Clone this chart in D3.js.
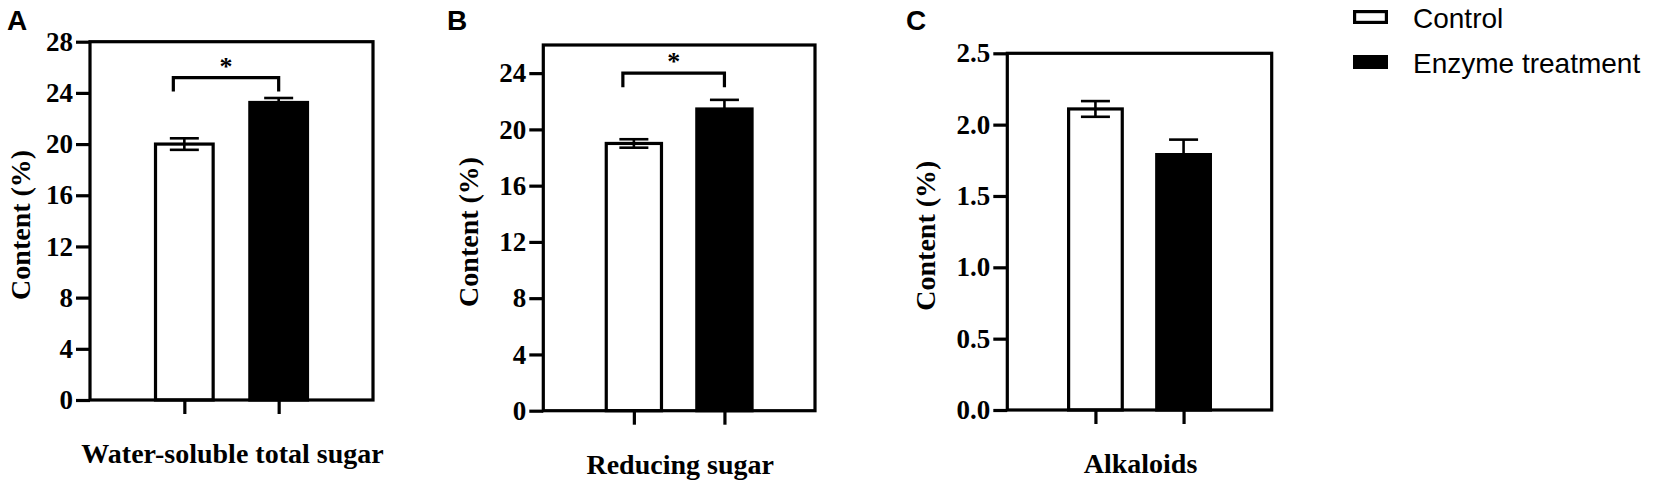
<!DOCTYPE html>
<html>
<head>
<meta charset="utf-8">
<script src="https://cdn.jsdelivr.net/npm/d3@7"></script>
<style>
  body { margin: 0; background: #fff; }
  svg text { fill: #000; }
</style>
</head>
<body>
<div id="chart"></div>
<script>

// ---- data ----
var groups = ["Control", "Enzyme treatment"];
var letters = ["A", "B", "C"];
var titles = ["Water-soluble total sugar", "Reducing sugar", "Alkaloids"];
var controlMean = [20.0, 19.0, 2.11];
var controlErr = [0.45, 0.3, 0.055];
var enzymeMean = [23.25, 21.45, 1.79];
var enzymeErr = [0.35, 0.65, 0.105];
var yMax = [28, 26, 2.5];
var yTicks = [
  [0, 4, 8, 12, 16, 20, 24, 28],
  [0, 4, 8, 12, 16, 20, 24],
  [0, 0.5, 1, 1.5, 2, 2.5]
];
var tickFormat = ["d", "d", ".1f"];
var sigMark = ["*", "*", null];
var sigLevel = [25.2, 24.0, null];

// ---- layout ----
var W = 1654, H = 481;
var frames = [
  {left: 90, right: 373, top: 41.7, bottom: 400, letterX: 7, ylabX: 20},
  {left: 543.3, right: 815, top: 45, bottom: 410.7, letterX: 447, ylabX: 468},
  {left: 1007.3, right: 1271.7, top: 53.3, bottom: 410, letterX: 906, ylabX: 925}
];
var serif = "'Liberation Serif', 'Times New Roman', serif";
var sans = "'Liberation Sans', Arial, sans-serif";
var lw = 3.2;

var svg = d3.select("#chart")
  .append("svg")
  .attr("width", W)
  .attr("height", H);

frames.forEach(function(f, i) {
  var g = svg.append("g");

  var y = d3.scaleLinear()
    .domain([0, yMax[i]])
    .range([f.bottom, f.top]);

  var x = d3.scalePoint()
    .domain(groups)
    .range([f.left, f.right])
    .padding(1);

  var bw = 0.215 * (f.right - f.left);
  var cap = 29;

  var rows = groups.map(function(k, j) {
    return {
      group: k,
      mean: j ? enzymeMean[i] : controlMean[i],
      err: j ? enzymeErr[i] : controlErr[i]
    };
  });

  // y axis
  var yAxis = d3.axisLeft(y)
    .tickValues(yTicks[i])
    .tickSize(14)
    .tickPadding(3)
    .tickFormat(d3.format(tickFormat[i]));

  var ya = g.append("g")
    .attr("transform", "translate(" + f.left + ",0)")
    .call(yAxis);
  ya.select(".domain").remove();
  ya.selectAll(".tick line")
    .attr("stroke", "#000")
    .attr("stroke-width", lw);
  ya.selectAll(".tick text")
    .style("font-family", serif)
    .style("font-weight", "bold")
    .style("font-size", "27px");

  // x axis ticks under each bar
  var xAxis = d3.axisBottom(x)
    .tickSize(14)
    .tickFormat("");
  var xa = g.append("g")
    .attr("transform", "translate(0," + f.bottom + ")")
    .call(xAxis);
  xa.select(".domain").remove();
  xa.selectAll(".tick line")
    .attr("stroke", "#000")
    .attr("stroke-width", lw);

  // bars
  g.selectAll(".bar")
    .data(rows)
    .enter()
    .append("rect")
    .attr("class", "bar")
    .attr("x", function(d) { return x(d.group) - bw / 2 + lw / 2; })
    .attr("width", bw - lw)
    .attr("y", function(d) { return y(d.mean); })
    .attr("height", function(d) { return y(0) - y(d.mean); })
    .attr("fill", function(d, j) { return j ? "#000" : "#fff"; })
    .attr("stroke", "#000")
    .attr("stroke-width", lw);

  // error bars
  var eb = g.selectAll(".err")
    .data(rows)
    .enter()
    .append("g")
    .attr("class", "err")
    .attr("stroke", "#000")
    .attr("stroke-width", 2.6);
  eb.append("line")
    .attr("x1", function(d) { return x(d.group); })
    .attr("x2", function(d) { return x(d.group); })
    .attr("y1", function(d) { return y(d.mean - d.err); })
    .attr("y2", function(d) { return y(d.mean + d.err); });
  eb.append("line")
    .attr("x1", function(d) { return x(d.group) - cap / 2; })
    .attr("x2", function(d) { return x(d.group) + cap / 2; })
    .attr("y1", function(d) { return y(d.mean + d.err); })
    .attr("y2", function(d) { return y(d.mean + d.err); });
  eb.append("line")
    .attr("x1", function(d) { return x(d.group) - cap / 2; })
    .attr("x2", function(d) { return x(d.group) + cap / 2; })
    .attr("y1", function(d) { return y(d.mean - d.err); })
    .attr("y2", function(d) { return y(d.mean - d.err); });

  // frame
  g.append("rect")
    .attr("x", f.left)
    .attr("y", f.top)
    .attr("width", f.right - f.left)
    .attr("height", f.bottom - f.top)
    .attr("fill", "none")
    .attr("stroke", "#000")
    .attr("stroke-width", lw);

  // significance bracket
  if (sigMark[i]) {
    var xl = x(groups[0]) - 11, xr = x(groups[1]);
    var yb = y(sigLevel[i]);
    g.append("path")
      .attr("d", "M" + xl + "," + (yb + 14) + "V" + yb + "H" + xr + "V" + (yb + 14))
      .attr("fill", "none")
      .attr("stroke", "#000")
      .attr("stroke-width", lw);
    g.append("text")
      .attr("x", (xl + xr) / 2)
      .attr("y", yb - 3)
      .attr("text-anchor", "middle")
      .style("font-family", serif)
      .style("font-weight", "bold")
      .style("font-size", "26px")
      .text(sigMark[i]);
  }

  // panel letter
  g.append("text")
    .attr("x", f.letterX)
    .attr("y", 30)
    .style("font-family", sans)
    .style("font-weight", "bold")
    .style("font-size", "28px")
    .text(letters[i]);

  // y label
  g.append("text")
    .attr("transform", "translate(" + f.ylabX + "," + ((f.top + f.bottom) / 2 + 4) + ") rotate(-90)")
    .attr("text-anchor", "middle")
    .attr("dy", "0.35em")
    .style("font-family", serif)
    .style("font-weight", "bold")
    .style("font-size", "28px")
    .text("Content (%)");

  // x label
  g.append("text")
    .attr("x", (x(groups[0]) + x(groups[1])) / 2 + 1)
    .attr("y", f.bottom + 63)
    .attr("text-anchor", "middle")
    .style("font-family", serif)
    .style("font-weight", "bold")
    .style("font-size", "28px")
    .text(titles[i]);
});

// legend
var legend = svg.append("g")
  .attr("transform", "translate(1353,0)");
var li = legend.selectAll(".item")
  .data(groups)
  .enter()
  .append("g")
  .attr("class", "item")
  .attr("transform", function(d, j) { return "translate(0," + (j * 45) + ")"; });
li.append("rect")
  .attr("x", lw / 2)
  .attr("y", 10 + lw / 2)
  .attr("width", 35 - lw)
  .attr("height", 14 - lw)
  .attr("fill", function(d, j) { return j ? "#000" : "#fff"; })
  .attr("stroke", "#000")
  .attr("stroke-width", lw);
li.append("text")
  .attr("x", 60)
  .attr("y", 28)
  .style("font-family", sans)
  .style("font-size", "28px")
  .text(function(d) { return d; });

</script>
</body>
</html>
